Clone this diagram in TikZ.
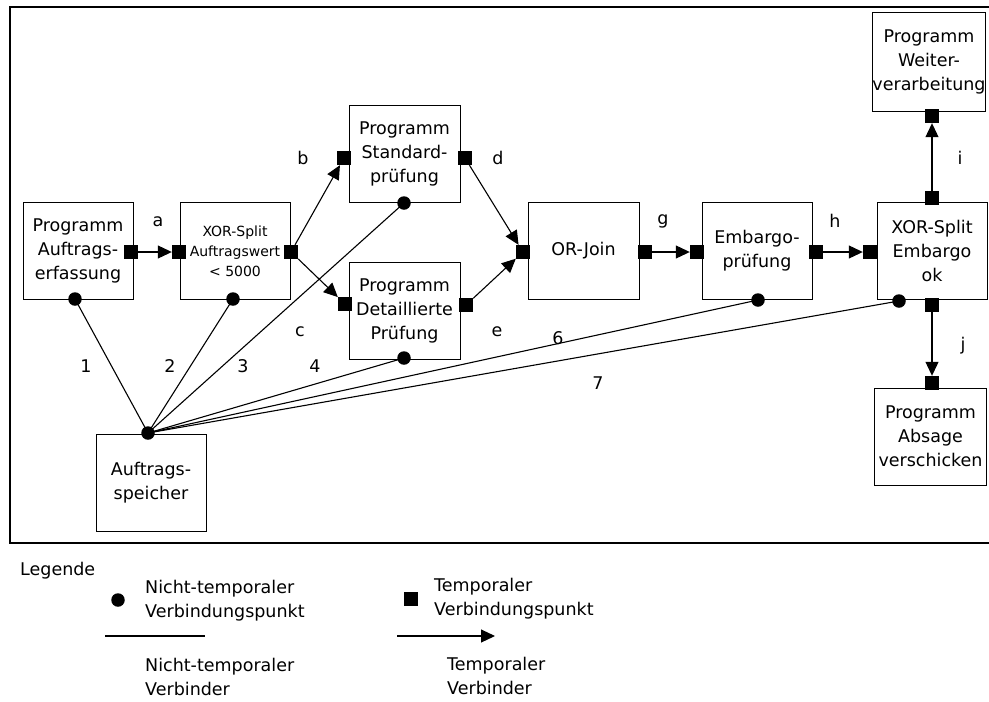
\documentclass[tikz,border=0pt]{standalone}
\usepackage{fontspec}
\setmainfont{DejaVu Sans}
\usetikzlibrary{arrows.meta}
\begin{document}
\begin{tikzpicture}[x=1pt,y=-1pt,
  every node/.style={font=\fontsize{17.5}{24}\selectfont},
  box/.style={draw, line width=1pt, minimum width=110pt, minimum height=97pt,
    align=center, inner sep=0pt},
  tp/.style={rectangle, fill, minimum size=14pt, inner sep=0pt},
  ntp/.style={circle, fill, minimum size=13.5pt, inner sep=0pt},
  tconn/.style={line width=1.1pt, -{Triangle[length=14pt,width=13pt]}},
  nconn/.style={line width=1.1pt},
  lbl/.style={inner sep=0pt},
  legtext/.style={inner sep=0pt, anchor=west, align=left}
]
\useasboundingbox (0,0) rectangle (989,702);

% outer frame
\draw[line width=1.3pt] (989,7) -- (10,7) -- (10,543) -- (989,543);

% process boxes
\node[box] (erf) at (78,251)  {Programm\\Auftrags-\\erfassung};
\node[box, font=\fontsize{14}{20}\selectfont] (xa) at (235,251) {XOR-Split\\Auftragswert\\< 5000};
\node[box, minimum width=111pt] (std) at (404.5,154) {Programm\\Standard-\\prüfung};
\node[box, minimum width=111pt] (det) at (404.5,310.5) {Programm\\Detaillierte\\Prüfung};
\node[box, minimum width=111pt] (orj) at (583.5,251) {OR-Join};
\node[box] (emb) at (757,251) {Embargo-\\prüfung};
\node[box] (xe) at (932,251) {XOR-Split\\Embargo\\ok};
\node[box, minimum width=112pt, minimum height=99pt] (wei) at (929,61.5) {Programm\\Weiter-\\verarbeitung};
\node[box, minimum width=112pt] (abs) at (930.5,436.5) {Programm\\Absage\\verschicken};
\node[box] (spe) at (151,482.5) {Auftrags-\\speicher};

% temporal connection points
\node[tp] (erfR) at (131,252) {};
\node[tp] (xaL)  at (179,252) {};
\node[tp] (xaR)  at (291,252) {};
\node[tp] (stdL) at (344,158) {};
\node[tp] (stdR) at (465,158) {};
\node[tp] (detL) at (345,304) {};
\node[tp] (detR) at (466,305) {};
\node[tp] (orjL) at (523,252) {};
\node[tp] (orjR) at (645,252) {};
\node[tp] (embL) at (697,252) {};
\node[tp] (embR) at (816,252) {};
\node[tp] (xeL)  at (870,252) {};
\node[tp] (xeT)  at (932,198) {};
\node[tp] (xeB)  at (932,305) {};
\node[tp] (weiB) at (932,116) {};
\node[tp] (absT) at (932,383) {};

% non-temporal connection points
\node[ntp] (erfD) at (75,299) {};
\node[ntp] (xaD)  at (233,299) {};
\node[ntp] (stdD) at (404,203) {};
\node[ntp] (detD) at (404,358) {};
\node[ntp] (embD) at (758,300) {};
\node[ntp] (xeD)  at (899,301) {};
\node[ntp] (speD) at (148,433) {};

% temporal connectors
\draw[tconn] (erfR) -- (xaL);
\draw[tconn] (xaR) -- (stdL);
\draw[tconn] (xaR) -- (detL);
\draw[tconn] (stdR) -- (orjL);
\draw[tconn] (detR) -- (orjL);
\draw[tconn] (orjR) -- (embL);
\draw[tconn] (embR) -- (xeL);
\draw[tconn] (xeT) -- (weiB);
\draw[tconn] (xeB) -- (absT);

% non-temporal connectors
\draw[nconn] (speD.center) -- (erfD.center);
\draw[nconn] (speD.center) -- (xaD.center);
\draw[nconn] (speD.center) -- (stdD.center);
\draw[nconn] (speD.center) -- (detD.center);
\draw[nconn] (speD.center) -- (embD.center);
\draw[nconn] (speD.center) -- (xeD.center);

% connector labels
\node[lbl] (la) at (158,222) {a};
\node[lbl] (lb) at (303,158) {b};
\node[lbl] (lc) at (300,332) {c};
\node[lbl] (ld) at (498,158) {d};
\node[lbl] (le) at (497,332) {e};
\node[lbl] (lg) at (663,221) {g};
\node[lbl] (lh) at (835,221) {h};
\node[lbl] (li) at (960,158) {i};
\node[lbl] (lj) at (963,346) {j};
\node[lbl] (l1) at (86,366) {1};
\node[lbl] (l2) at (170,366) {2};
\node[lbl] (l3) at (243,366) {3};
\node[lbl] (l4) at (315,366) {4};
\node[lbl] (l6) at (558,338) {6};
\node[lbl] (l7) at (598,383) {7};

% legend
\node[legtext] (leg) at (20,571) {Legende};
\node[ntp] (legDot) at (118,600) {};
\node[legtext] (legDotT) at (145,601) {Nicht-temporaler\\Verbindungspunkt};
\node[tp] (legSq) at (411,599) {};
\node[legtext] (legSqT) at (434,599) {Temporaler\\Verbindungspunkt};
\coordinate (legL1) at (105,636);
\coordinate (legL2) at (205,636);
\draw[nconn] (legL1) -- (legL2);
\coordinate (legA1) at (397,636);
\coordinate (legA2) at (495,636);
\draw[tconn] (legA1) -- (legA2);
\node[legtext] (legLT) at (145,677) {Nicht-temporaler\\Verbinder};
\node[legtext] (legAT) at (447,676) {Temporaler\\Verbinder};
\end{tikzpicture}
\end{document}
